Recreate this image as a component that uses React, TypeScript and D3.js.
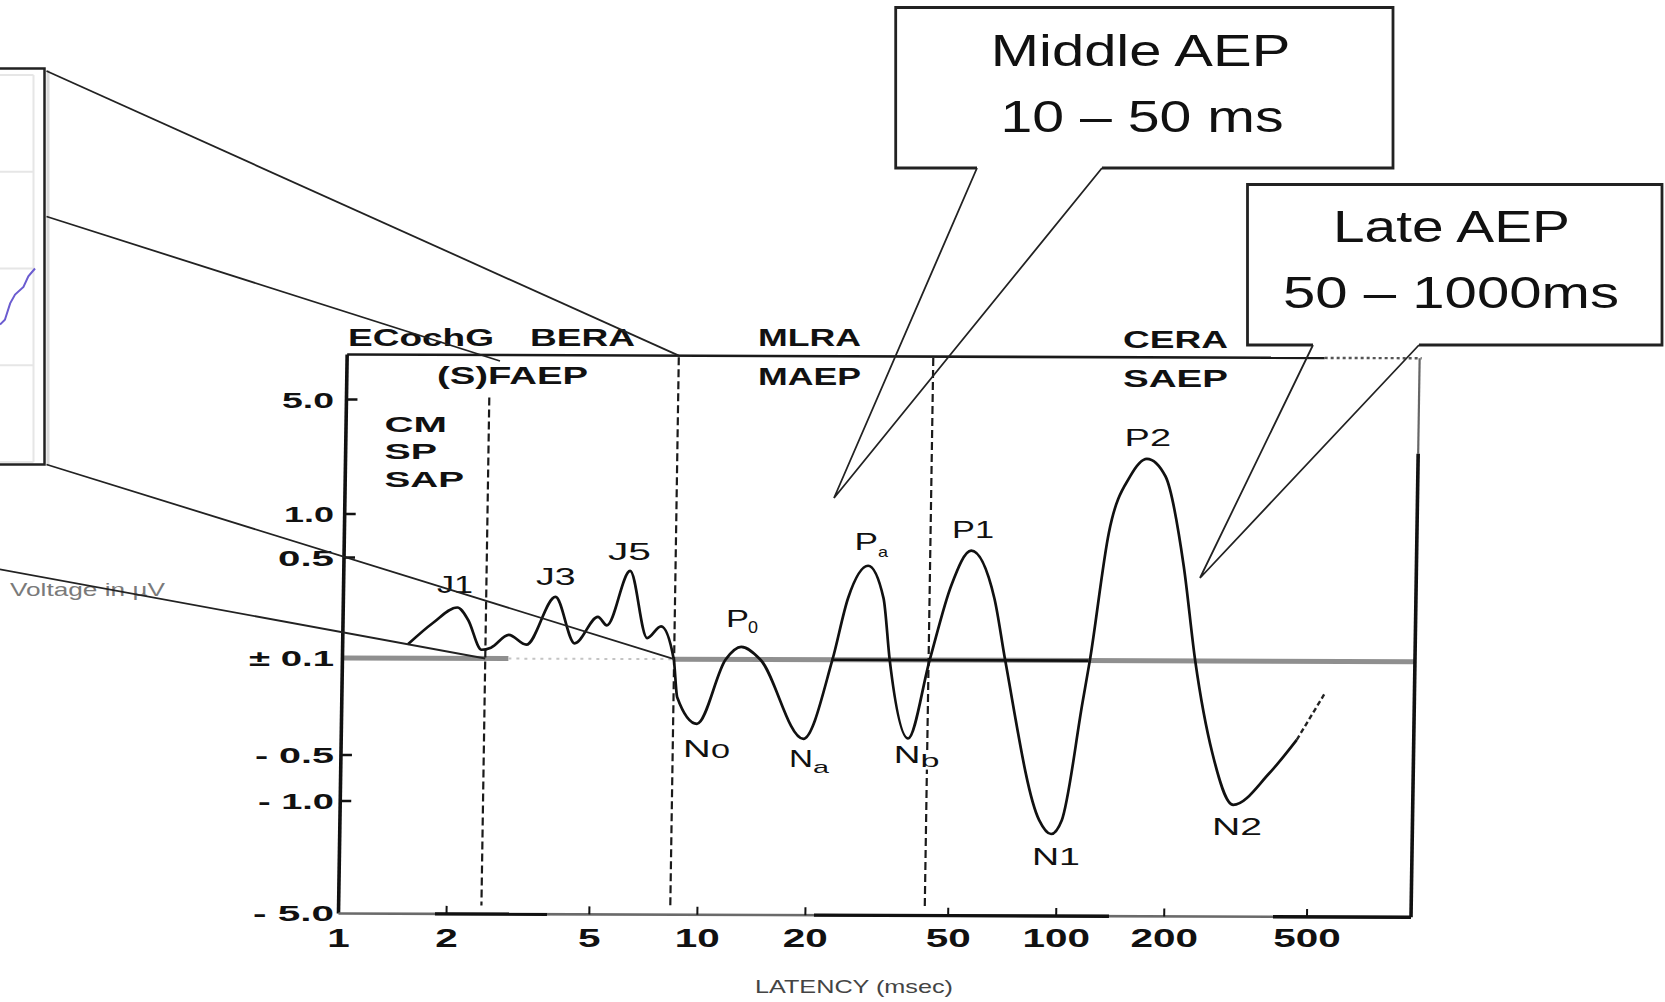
import React from "react";
import * as d3 from "d3";

// ---------------- data ----------------
const LATENCY_TICKS = [1, 2, 5, 10, 20, 50, 100, 200, 500];
const VOLTAGE_TICKS = [5, 1, 0.5, 0.1, -0.5, -1, -5];
const VOLTAGE_LABELS = ["5.0", "1.0", "0.5", "± 0.1", "- 0.5", "- 1.0", "- 5.0"];
const VOLTAGE_TICK_MARKS = [5, 1, 0.5, -0.5, -1];
const REGION_BOUNDS = [2.5, 8.4, 43]; // ms

const WAVE_LATENCY = [
  1.52, 1.78, 2.08, 2.23, 2.44, 2.59, 2.9, 3.25, 3.9, 4.43, 5.13, 5.44, 6.28, 7.05, 7.7, 8.38,
  8.6, 9.79, 11.7, 12.9, 14.6, 19.4, 23.2, 25.5, 28.9, 32.0, 33.5, 38.0, 43.3, 49.4, 55.9,
  65.2, 70.3, 88.8, 96.0, 102.7, 116, 121, 135, 154, 171, 193, 219, 238, 268, 308, 387, 460,
];
const WAVE_VOLTAGE = [
  0.125, 0.176, 0.226, 0.186, 0.115, 0.119, 0.146, 0.125, 0.269, 0.128, 0.196, 0.171, 0.41, 0.14,
  0.169, 0, -0.188, -0.292, 0, 0.122, 0, -0.372, 0, 0.269, 0.451, 0.269, 0, -0.368, 0, 0.332,
  0.577, 0.269, 0, -1.27, -1.55, -1.27, -0.199, 0, 0.775, 1.77, 2.26, 1.77, 0.456, 0,
  -0.46, -1.01, -0.627, -0.368,
];
const TAIL_LATENCY = [460, 546];
const TAIL_VOLTAGE = [-0.368, -0.173];

const REGION_NAMES = ["ECochG", "BERA", "(S)FAEP", "MLRA", "MAEP", "CERA", "SAEP"];
const EARLY_NAMES = ["CM", "SP", "SAP"];
const PEAK_NAMES = ["J1", "J3", "J5", "P0", "Pa", "P1", "P2", "N0", "Na", "Nb", "N1", "N2"];
const CALLOUT_TEXT = [
  ["Middle AEP", "10 – 50 ms"],
  ["Late AEP", "50 – 1000ms"],
];
const INSET_X = [0, 1.4, 2.9, 4.3, 6.7, 8.1, 10];
const INSET_Y = [1.42, 1.47, 1.64, 1.73, 1.81, 1.92, 2.0];
const INSET_GRID = [0, 1, 2, 3, 4];

// ---------------- layout ----------------
const W = 1665;
const H = 1002;
const FONT = "'Liberation Sans', Arial, Helvetica, sans-serif";
const SHEAR_X = 0.0155;
const TILT_Y = 0.0035;
const SHEAR_ORIGIN_Y = 913;
const TILT_ORIGIN_X = 340;
const FRAME = { top: 354.5, bottom: 913.5, right: 1411 };
const REGION_LAYOUT = [
  { x: 348, y: 346, w: 146 },
  { x: 530, y: 346, w: 105 },
  { x: 437, y: 384, w: 151 },
  { x: 758, y: 346, w: 103 },
  { x: 758, y: 385, w: 103 },
  { x: 1123, y: 348, w: 105 },
  { x: 1123, y: 387, w: 105 },
];
const EARLY_LAYOUT = [
  { x: 384.5, y: 432, w: 62.5 },
  { x: 384.5, y: 458.5, w: 52.5 },
  { x: 384.5, y: 486.5, w: 79.5 },
];
const VOLTAGE_LABEL_W = [52, 50, 56, 85, 79, 76, 81];
const PEAK_LAYOUT: Record<string, any> = {
  J1: { x: 437, y: 593, w: 36 },
  J3: { x: 536, y: 585, w: 39.5 },
  J5: { x: 608, y: 560, w: 43 },
  P0: { x: 726, y: 627, w: 23, sx: 748, sy: 633, sw: 10, ss: 16 },
  Pa: { x: 854.5, y: 550, w: 23.5, sx: 878, sy: 557, sw: 10, ss: 15 },
  P1: { x: 952, y: 538, w: 42 },
  P2: { x: 1124.6, y: 446, w: 46.4 },
  N0: { x: 683, y: 757, w: 27.7, sx: 711, sy: 758, sw: 19, ss: 20 },
  Na: { x: 789, y: 766.7, w: 24, sx: 813, sy: 773, sw: 16, ss: 17 },
  Nb: { x: 893.75, y: 763, w: 26.7, sx: 920.5, sy: 767, sw: 19, ss: 18, halo: true },
  N1: { x: 1032, y: 865, w: 48 },
  N2: { x: 1212, y: 835, w: 50 },
};
const CALLOUTS = [
  {
    x0: 895.7, y0: 7.5, x1: 1393, y1: 168, g0: 977, g1: 1102, tip: [834, 498],
    lines: [
      { x: 990.8, y: 65.5, w: 299.5 },
      { x: 1000.5, y: 131.5, w: 283 },
    ],
  },
  {
    x0: 1247.5, y0: 184.5, x1: 1662, y1: 345, g0: 1313, g1: 1419, tip: [1200, 578],
    lines: [
      { x: 1333, y: 241.5, w: 237 },
      { x: 1283, y: 308, w: 336 },
    ],
  },
];
const DASH_EXTENT = [
  [397, 905],
  [356, 908],
  [356, 905],
];

function T(props: any) {
  const { x, y, w, size, weight = "normal", anchor = "start", fill = "#111", children, halo } = props;
  return (
    <text
      x={x}
      y={y}
      textLength={w}
      lengthAdjust="spacingAndGlyphs"
      fontSize={size}
      fontWeight={weight}
      fontFamily={FONT}
      textAnchor={anchor}
      fill={fill}
      stroke={halo ? "#fff" : undefined}
      strokeWidth={halo ? 5 : undefined}
      paintOrder={halo ? "stroke" : undefined}
    >
      {children}
    </text>
  );
}

export default function App() {
  const x = d3.scaleLog().domain([1, 1000]).range([338.5, 1415]);
  const mag = (v: number) => Math.sign(v) * Math.log10(Math.max(Math.abs(v), 0.1) / 0.1);
  const yMag = d3
    .scaleLinear()
    .domain([-5, -1, -0.5, 0.1, 0.5, 1, 5].map(mag))
    .range([913, 801, 755, 658, 557.5, 514, 399.5]);
  const y = (v: number) => yMag(mag(v));

  const warp = (px: number, py: number): [number, number] => [
    px + SHEAR_X * (SHEAR_ORIGIN_Y - py),
    py + TILT_Y * (px - TILT_ORIGIN_X),
  ];
  const plotTransform = `matrix(1,${TILT_Y},${-SHEAR_X},1,${SHEAR_X * SHEAR_ORIGIN_Y},${-TILT_Y * TILT_ORIGIN_X})`;

  const wavePts: [number, number][] = WAVE_LATENCY.map((t, i) => [x(t), y(WAVE_VOLTAGE[i])]);
  const tailPts: [number, number][] = TAIL_LATENCY.map((t, i) => [x(t), y(TAIL_VOLTAGE[i])]);
  const waveLine = d3.line().curve(d3.curveMonotoneX);
  const straight = d3.line();

  // inset (cropped chart at far left)
  const insetX = d3.scaleLinear().domain([0, 10]).range([0, 35]);
  const insetY = d3.scaleLinear().domain([0, 4]).range([462, 75]);
  const insetPts: [number, number][] = INSET_X.map((v, i) => [insetX(v), insetY(INSET_Y[i])]);

  const x0 = x(1);
  const base = y(0.1);

  const L1end = warp(x(REGION_BOUNDS[1]), FRAME.top);
  const L3end = warp(x(REGION_BOUNDS[1]), base);
  const L4end = warp(x(REGION_BOUNDS[0]), base);
  const connectors = [
    [[46.5, 71], L1end],
    [[46.5, 216.5], [500, 361]],
    [[46.5, 464.5], L3end],
    [[-2, 569], L4end],
  ];

  return (
    <svg
      width={W}
      height={H}
      viewBox={`0 0 ${W} ${H}`}
      style={{ position: "absolute", left: 0, top: 0, display: "block" }}
    >
      <rect x={0} y={0} width={W} height={H} fill="#fff" />

      {/* cropped inset box at left */}
      <g>
        <line x1={48} y1={70} x2={48} y2={466} stroke="#dadada" strokeWidth={3} />
        <rect x={-3} y={68.5} width={47.5} height={396} fill="#fff" stroke="#222" strokeWidth={2.5} />
        {INSET_GRID.map((g) => (
          <line key={g} x1={0} x2={33.5} y1={insetY(g)} y2={insetY(g)} stroke="#e6e6e6" strokeWidth={2} />
        ))}
        <line x1={33.5} x2={33.5} y1={insetY(4)} y2={insetY(0)} stroke="#e6e6e6" strokeWidth={2} />
        <path d={straight(insetPts) || ""} fill="none" stroke="#6b5cd0" strokeWidth={2} />
      </g>

      <T x={10} y={596} w={155} size={19} fill="#7a7a7a">
        Voltage in µV
      </T>

      {/* plot (slightly sheared like the scanned original) */}
      <g transform={plotTransform}>
        {/* baseline ±0.1 */}
        <line x1={x0} x2={x(2.9)} y1={base} y2={base} stroke="#8f8f8f" strokeWidth={5} />
        <line x1={x(2.9)} x2={x(REGION_BOUNDS[1])} y1={base} y2={base} stroke="#c4c4c4" strokeWidth={2} strokeDasharray="3 5" />
        <line x1={x(REGION_BOUNDS[1])} x2={FRAME.right} y1={base} y2={base} stroke="#8f8f8f" strokeWidth={5} />
        <line x1={x(23)} x2={x(120)} y1={base} y2={base} stroke="#111" strokeWidth={2.6} />

        {/* region dividers */}
        {REGION_BOUNDS.map((b, i) => (
          <line
            key={b}
            x1={x(b)}
            x2={x(b)}
            y1={DASH_EXTENT[i][0]}
            y2={DASH_EXTENT[i][1]}
            stroke="#1a1a1a"
            strokeWidth={2.2}
            strokeDasharray="8 4"
          />
        ))}

        {/* frame */}
        <line x1={x0} x2={1316} y1={FRAME.top} y2={FRAME.top} stroke="#1a1a1a" strokeWidth={2.6} />
        <line x1={1316} x2={FRAME.right + 2} y1={FRAME.top} y2={FRAME.top} stroke="#555" strokeWidth={2.4} strokeDasharray="3 3" />
        <line x1={x0} x2={x0} y1={FRAME.top} y2={FRAME.bottom} stroke="#111" strokeWidth={3.6} />
        <line x1={FRAME.right} x2={FRAME.right} y1={FRAME.top} y2={450} stroke="#666" strokeWidth={2.2} />
        <line x1={FRAME.right} x2={FRAME.right} y1={450} y2={FRAME.bottom} stroke="#111" strokeWidth={3.6} />
        <line x1={x0} x2={FRAME.right} y1={FRAME.bottom} y2={FRAME.bottom} stroke="#6a6a6a" strokeWidth={2.6} />
        {[[435, 547], [814, 1109], [1273, FRAME.right]].map(([a, b]) => (
          <line key={a} x1={a} x2={b} y1={FRAME.bottom} y2={FRAME.bottom} stroke="#111" strokeWidth={3.4} />
        ))}

        {/* ticks */}
        {VOLTAGE_TICK_MARKS.map((v) => (
          <line key={v} x1={x0} x2={x0 + 11} y1={y(v)} y2={y(v)} stroke="#111" strokeWidth={2.5} />
        ))}
        {LATENCY_TICKS.slice(1).map((t) => (
          <line key={t} x1={x(t)} x2={x(t)} y1={FRAME.bottom} y2={FRAME.bottom - 8} stroke="#111" strokeWidth={2} />
        ))}

        {/* waveform */}
        <path d={waveLine(wavePts) || ""} fill="none" stroke="#111" strokeWidth={2.7} strokeLinejoin="round" />
        <path d={straight(tailPts) || ""} fill="none" stroke="#222" strokeWidth={2.4} strokeDasharray="5 3" />
      </g>

      {/* axis labels */}
      {VOLTAGE_TICKS.map((v, i) => (
        <T key={v} x={334} y={y(v) + 8} w={VOLTAGE_LABEL_W[i]} size={22} weight="bold" anchor="end">
          {VOLTAGE_LABELS[i]}
        </T>
      ))}
      {LATENCY_TICKS.map((t) => (
        <T key={t} x={x(t)} y={946.5} w={22.5 * String(t).length} size={25} weight="bold" anchor="middle">
          {String(t)}
        </T>
      ))}
      <T x={755} y={993} w={198} size={19} fill="#444">
        LATENCY (msec)
      </T>

      {/* region labels */}
      {REGION_NAMES.map((n, i) => (
        <T key={n} x={REGION_LAYOUT[i].x} y={REGION_LAYOUT[i].y} w={REGION_LAYOUT[i].w} size={24} weight="bold">
          {n}
        </T>
      ))}
      {EARLY_NAMES.map((n, i) => (
        <T key={n} x={EARLY_LAYOUT[i].x} y={EARLY_LAYOUT[i].y} w={EARLY_LAYOUT[i].w} size={22} weight="bold">
          {n}
        </T>
      ))}

      {/* peak labels */}
      {PEAK_NAMES.map((n) => {
        const L = PEAK_LAYOUT[n];
        if (L.sx !== undefined) {
          return (
            <g key={n}>
              <T x={L.x} y={L.y} w={L.w} size={23} halo={L.halo}>
                {n[0]}
              </T>
              <T x={L.sx} y={L.sy} w={L.sw} size={L.ss} halo={L.halo}>
                {n[1]}
              </T>
            </g>
          );
        }
        return (
          <T key={n} x={L.x} y={L.y} w={L.w} size={23}>
            {n}
          </T>
        );
      })}

      {/* connectors from the left inset */}
      {connectors.map((c, i) => (
        <line key={i} x1={c[0][0]} y1={c[0][1]} x2={c[1][0]} y2={c[1][1]} stroke="#222" strokeWidth={1.8} />
      ))}

      {/* callouts */}
      {CALLOUTS.map((c, i) => (
        <g key={i}>
          <rect x={c.x0} y={c.y0} width={c.x1 - c.x0} height={c.y1 - c.y0} fill="#fff" stroke="none" />
          <path
            d={`M${c.g0},${c.y1} H${c.x0} V${c.y0} H${c.x1} V${c.y1} H${c.g1}`}
            fill="none"
            stroke="#222"
            strokeWidth={2.8}
          />
          <path
            d={`M${c.g0},${c.y1} L${c.tip[0]},${c.tip[1]} L${c.g1},${c.y1}`}
            fill="none"
            stroke="#222"
            strokeWidth={1.8}
            strokeLinejoin="miter"
          />
          {CALLOUT_TEXT[i].map((s, j) => (
            <T key={j} x={c.lines[j].x} y={c.lines[j].y} w={c.lines[j].w} size={45}>
              {s}
            </T>
          ))}
        </g>
      ))}
    </svg>
  );
}
